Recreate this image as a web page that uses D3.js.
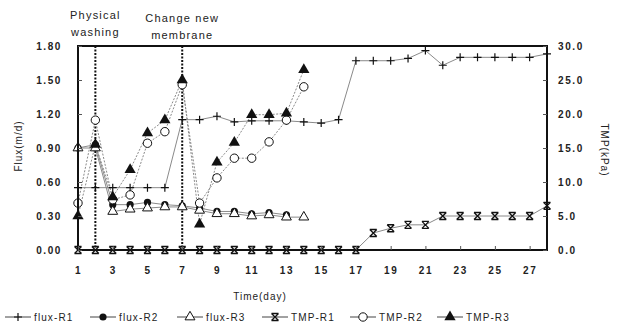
<!DOCTYPE html>
<html>
<head>
<meta charset="utf-8">
<script src="https://cdn.jsdelivr.net/npm/d3@7"></script>
<style>
  body { margin: 0; background: #fff; }
  text { font-family: "Liberation Sans", Arial, sans-serif; fill: #222; }
</style>
</head>
<body>
<div id="chart"></div>
<script>
// data
const days = [1,2,3,4,5,6,7,8,9,10,11,12,13,14,15,16,17,18,19,20,21,22,23,24,25,26,27,28];
const fluxR1 = [0.55,0.55,0.55,0.55,0.55,0.55,1.15,1.15,1.18,1.13,1.14,1.14,1.14,1.13,1.12,1.15,1.67,1.67,1.67,1.69,1.76,1.63,1.70,1.70,1.70,1.70,1.70,1.73];
const fluxR2 = [0.90,0.93,0.40,0.40,0.42,0.40,0.39,0.37,0.34,0.34,0.32,0.33,0.31];
const fluxR3 = [0.90,0.90,0.34,0.36,0.37,0.38,0.38,0.35,0.32,0.32,0.30,0.31,0.29,0.29];
const tmpR1 = [0,0,0,0,0,0,0,0,0,0,0,0,0,0,0,0,0,2.5,3.2,3.7,3.7,5.0,5.0,5.0,5.0,5.0,5.0,6.5];
const tmpR2 = [6.9,19.1,7.4,8.1,15.7,17.4,24.3,6.9,10.6,13.5,13.5,15.9,19.1,24.0];
const tmpR3 = [5.0,15.5,7.8,11.8,17.2,19.1,25.0,3.8,12.9,15.8,19.9,19.9,20.1,26.5];

const fluxTicks = [0, 0.3, 0.6, 0.9, 1.2, 1.5, 1.8];
const tmpTicks = [0, 5, 10, 15, 20, 25, 30];
const dayTicks = [1,3,5,7,9,11,13,15,17,19,21,23,25,27];
const events = [
  { day: 2, lines: ["Physical", "washing"], y: 15 },
  { day: 7, lines: ["Change new", "membrane"], y: 18 }
];

const width = 623, height = 333;
const plot = { left: 78, right: 547, top: 46, bottom: 250 };

const svg = d3.select("#chart").append("svg")
    .attr("width", width)
    .attr("height", height);

const x = d3.scaleLinear().domain([1, 28]).range([plot.left, plot.right]);
const yL = d3.scaleLinear().domain([0, 1.8]).range([plot.bottom, plot.top]);
const yR = d3.scaleLinear().domain([0, 30]).range([plot.bottom, plot.top]);

const series = [
  { name: "flux-R1", values: fluxR1, y: yL, marker: "plus", dash: null },
  { name: "flux-R2", values: fluxR2, y: yL, marker: "dot", dash: null },
  { name: "flux-R3", values: fluxR3, y: yL, marker: "otri", dash: null },
  { name: "TMP-R1", values: tmpR1, y: yR, marker: "ex", dash: null },
  { name: "TMP-R2", values: tmpR2, y: yR, marker: "ocirc", dash: "2,1.5" },
  { name: "TMP-R3", values: tmpR3, y: yR, marker: "ftri", dash: "2,1.5" }
];

function drawMarker(sel, type) {
  if (type === "plus") {
    sel.append("path").attr("d", "M-4,0H4M0,-4V4")
      .attr("stroke", "#111").attr("stroke-width", 1.2);
  } else if (type === "dot") {
    sel.append("circle").attr("r", 3.6).attr("fill", "#111");
  } else if (type === "otri") {
    sel.append("path").attr("d", d3.symbol(d3.symbolTriangle, 42)())
      .attr("fill", "#fff").attr("stroke", "#111").attr("stroke-width", 1);
  } else if (type === "ex") {
    sel.append("path").attr("d", "M-3.5,-3.5L3.5,3.5M-3.5,3.5L3.5,-3.5M-3.5,-3.5H3.5M-3.5,3.5H3.5")
      .attr("stroke", "#111").attr("stroke-width", 1.3);
  } else if (type === "ocirc") {
    sel.append("circle").attr("r", 4.2)
      .attr("fill", "#fff").attr("stroke", "#111").attr("stroke-width", 1);
  } else if (type === "ftri") {
    sel.append("path").attr("d", d3.symbol(d3.symbolTriangle, 55)())
      .attr("fill", "#111");
  }
}

// event lines
svg.selectAll(".event")
  .data(events)
  .join("line")
    .attr("x1", d => x(d.day)).attr("x2", d => x(d.day))
    .attr("y1", plot.top).attr("y2", plot.bottom)
    .attr("stroke", "#111").attr("stroke-width", 2)
    .attr("stroke-dasharray", "2,1.5");

events.forEach(ev => {
  const t = svg.append("text")
    .attr("text-anchor", "middle")
    .attr("font-size", 11)
    .attr("letter-spacing", 1.2)
    .attr("fill", "#444");
  ev.lines.forEach((s, i) => {
    t.append("tspan").attr("x", x(ev.day)).attr("y", ev.y + 4 + i * 17).text(s);
  });
});

// series lines
series.forEach(s => {
  const line = d3.line()
    .x((d, i) => x(days[i]))
    .y(d => s.y(d));
  svg.append("path")
    .datum(s.values)
    .attr("fill", "none")
    .attr("stroke", "#8a8a8a")
    .attr("stroke-width", 1)
    .attr("stroke-dasharray", s.dash)
    .attr("d", line);
});

// markers
series.forEach(s => {
  const g = svg.append("g");
  s.values.forEach((v, i) => {
    const m = g.append("g").attr("transform", `translate(${x(days[i])},${s.y(v)})`);
    drawMarker(m, s.marker);
  });
});

// frame
svg.append("rect")
  .attr("x", plot.left).attr("y", plot.top)
  .attr("width", plot.right - plot.left).attr("height", plot.bottom - plot.top)
  .attr("fill", "none").attr("stroke", "#111").attr("stroke-width", 2);

const leftAxis = d3.axisLeft(yL).tickValues(fluxTicks)
  .tickFormat(d3.format(".2f")).tickSize(-4).tickPadding(16);
const rightAxis = d3.axisRight(yR).tickValues(tmpTicks)
  .tickFormat(d3.format(".1f")).tickSize(-4).tickPadding(11);
const bottomAxis = d3.axisBottom(x).tickValues(dayTicks)
  .tickFormat(d3.format("d")).tickSize(-4).tickPadding(17);

function styleAxis(g) {
  g.select(".domain").remove();
  g.selectAll(".tick line").attr("stroke", "#555");
  g.selectAll("text")
    .attr("font-size", 10)
    .attr("font-weight", "bold")
    .attr("letter-spacing", 1.6)
    .attr("fill", "#333")
    .style("font-family", "'Liberation Sans', Arial, sans-serif");
}

svg.append("g").attr("transform", `translate(${plot.left},0)`).call(leftAxis).call(styleAxis);
svg.append("g").attr("transform", `translate(${plot.right},0)`).call(rightAxis).call(styleAxis);
svg.append("g").attr("transform", `translate(0,${plot.bottom})`).call(bottomAxis).call(styleAxis);

// axis titles
svg.append("text")
  .attr("transform", "translate(22,146) rotate(-90)")
  .attr("text-anchor", "middle")
  .attr("font-size", 10).attr("letter-spacing", 1)
  .text("Flux(m/d)");

svg.append("text")
  .attr("transform", "translate(601,150) rotate(90)")
  .attr("text-anchor", "middle")
  .attr("font-size", 10).attr("letter-spacing", 1)
  .text("TMP(kPa)");

svg.append("text")
  .attr("x", 260).attr("y", 300)
  .attr("text-anchor", "middle")
  .attr("font-size", 10).attr("letter-spacing", 1)
  .text("Time(day)");

// legend
const legendX = [5, 90, 177, 262, 350, 437];
const legend = svg.append("g").attr("transform", "translate(0,317)");
series.forEach((s, i) => {
  const g = legend.append("g").attr("transform", `translate(${legendX[i]},0)`);
  g.append("line").attr("x1", 0).attr("x2", 26).attr("y1", 0).attr("y2", 0)
    .attr("stroke", "#444").attr("stroke-width", 1);
  const m = g.append("g").attr("transform", "translate(13,0)");
  drawMarker(m, s.marker);
  g.append("text").attr("x", 29).attr("y", 4)
    .attr("font-size", 10).attr("letter-spacing", 1.1)
    .text(s.name);
});
</script>
</body>
</html>
